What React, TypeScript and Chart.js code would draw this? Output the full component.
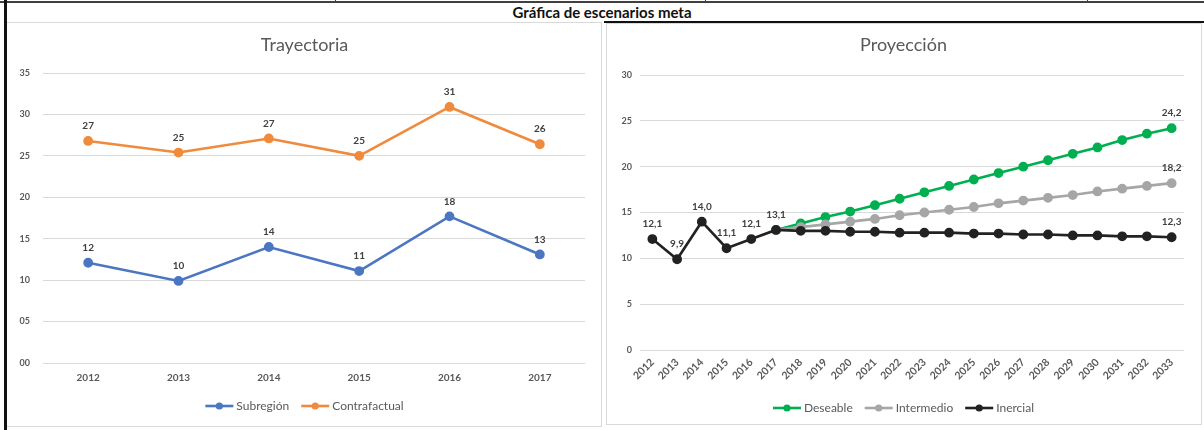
import React, { useEffect, useRef } from "react";
import { Chart, registerables } from "chart.js";

Chart.register(...registerables);

// ---------- DATA ----------
const trajYears = ["2012", "2013", "2014", "2015", "2016", "2017"];
const subregion = [12.1, 9.9, 14.0, 11.1, 17.7, 13.1];
const contrafactual = [26.8, 25.4, 27.1, 25.0, 30.9, 26.4];

const projYears = [
  "2012", "2013", "2014", "2015", "2016", "2017", "2018", "2019", "2020", "2021", "2022",
  "2023", "2024", "2025", "2026", "2027", "2028", "2029", "2030", "2031", "2032", "2033",
];
const deseable = [
  null, null, null, null, null, 13.1, 13.8, 14.5, 15.1, 15.8, 16.5,
  17.2, 17.9, 18.6, 19.3, 20.0, 20.7, 21.4, 22.1, 22.9, 23.6, 24.2,
];
const intermedio = [
  null, null, null, null, null, 13.1, 13.4, 13.7, 14.0, 14.3, 14.7,
  15.0, 15.3, 15.6, 16.0, 16.3, 16.6, 16.9, 17.3, 17.6, 17.9, 18.2,
];
const inercial = [
  12.1, 9.9, 14.0, 11.1, 12.1, 13.1, 13.0, 13.0, 12.9, 12.9, 12.8,
  12.8, 12.8, 12.7, 12.7, 12.6, 12.6, 12.5, 12.5, 12.4, 12.4, 12.3,
];
// indices of points that carry a value label in the projection chart
const deseableLabelIdx = [21];
const intermedioLabelIdx = [21];
const inercialLabelIdx = [0, 1, 2, 3, 4, 5, 21];

const mainTitle = "Gráfica de escenarios meta";
const leftTitle = "Trayectoria";
const rightTitle = "Proyección";

// ---------- STYLE ----------
const FONT = "Lato, 'Open Sans', sans-serif";
const BLUE = "#4a76c2";
const ORANGE = "#f08a3c";
const GREEN = "#00b050";
const GRAY = "#a6a6a6";
const BLACK = "#222222";
const GRID = "#d9d9d9";
const TICK = "#595959";
const LABEL = "#404040";

function makeLabelPlugin(format: (v: number) => string) {
  return {
    id: "valueLabels",
    afterDatasetsDraw(chart: any) {
      const ctx = chart.ctx;
      ctx.save();
      ctx.font = `bold 10px ${FONT}`;
      ctx.fillStyle = LABEL;
      ctx.textAlign = "center";
      ctx.textBaseline = "middle";
      chart.data.datasets.forEach((ds: any, di: number) => {
        const meta = chart.getDatasetMeta(di);
        meta.data.forEach((pt: any, i: number) => {
          const v = ds.data[i];
          if (v == null) return;
          if (ds.labelIdx && !ds.labelIdx.includes(i)) return;
          ctx.fillText(format(v), pt.x, pt.y - 15);
        });
      });
      ctx.restore();
    },
  };
}

// Title + legend (line-with-marker icons, like the spreadsheet chart)
function makeDecorPlugin(title: string, titleY: number, legendY: number) {
  return {
    id: "decor",
    afterDraw(chart: any) {
      const ctx = chart.ctx;
      const cx = chart.width / 2;
      ctx.save();
      ctx.fillStyle = TICK;
      ctx.textAlign = "center";
      ctx.textBaseline = "middle";
      ctx.font = `18px ${FONT}`;
      ctx.fillText(title, cx, titleY);

      ctx.font = `12px ${FONT}`;
      const markW = 28;
      const gapIn = 3;
      const gapOut = 12;
      const ds = chart.data.datasets;
      const widths = ds.map((d: any) => markW + gapIn + ctx.measureText(d.label).width);
      const total = widths.reduce((a: number, b: number) => a + b, 0) + gapOut * (ds.length - 1);
      let x = cx - total / 2;
      ds.forEach((d: any, i: number) => {
        const col = d.borderColor;
        ctx.strokeStyle = col;
        ctx.lineWidth = 2.6;
        ctx.beginPath();
        ctx.moveTo(x, legendY);
        ctx.lineTo(x + markW, legendY);
        ctx.stroke();
        ctx.fillStyle = col;
        ctx.beginPath();
        ctx.arc(x + markW / 2, legendY, 3.6, 0, Math.PI * 2);
        ctx.fill();
        ctx.fillStyle = TICK;
        ctx.textAlign = "left";
        ctx.fillText(d.label, x + markW + gapIn, legendY + 0.5);
        x += widths[i] + gapOut;
      });
      ctx.restore();
    },
  };
}

function lineDs(label: string, data: any[], color: string, extra: any = {}) {
  return {
    label,
    data,
    borderColor: color,
    backgroundColor: color,
    pointBackgroundColor: color,
    pointBorderColor: color,
    borderWidth: 2.6,
    pointRadius: 3.6,
    pointHoverRadius: 3.6,
    tension: 0,
    spanGaps: false,
    ...extra,
  };
}

function ChartCanvas({ config, width, height, style }: any) {
  const ref = useRef<HTMLCanvasElement>(null);
  useEffect(() => {
    const chart = new Chart(ref.current!, config());
    return () => chart.destroy();
  }, []);
  return (
    <canvas
      ref={ref}
      width={width}
      height={height}
      style={{ position: "absolute", width, height, ...style }}
    />
  );
}

const leftConfig = () => ({
  type: "line",
  data: {
    labels: trajYears,
    datasets: [
      lineDs("Subregión", subregion, BLUE),
      lineDs("Contrafactual", contrafactual, ORANGE),
    ],
  },
  options: {
    responsive: false,
    animation: false,
    layout: { padding: { left: 0, right: 16, top: 50, bottom: 38 } },
    scales: {
      x: {
        offset: true,
        grid: { display: false, drawTicks: false },
        border: { display: false },
        ticks: { color: TICK, padding: 9, maxRotation: 0, font: { family: FONT, size: 10, weight: "bold" } },
        afterFit: (s: any) => {
          s.height = 24;
        },
      },
      y: {
        min: 0,
        max: 35,
        grid: { color: GRID, drawTicks: false, lineWidth: 1 },
        border: { display: false },
        ticks: {
          stepSize: 5,
          padding: 13,
          color: TICK,
          font: { family: FONT, size: 9, weight: "bold" },
          callback: (v: any) => String(v).padStart(2, "0"),
        },
        afterFit: (s: any) => {
          s.width = 35;
        },
      },
    },
    plugins: {
      title: { display: false },
      legend: { display: false },
      tooltip: { enabled: false },
    },
  },
  plugins: [
    makeLabelPlugin((v) => String(Math.round(v))),
    makeDecorPlugin(leftTitle, 22, 383),
  ],
});

const rightConfig = () => ({
  type: "line",
  data: {
    labels: projYears,
    datasets: [
      lineDs("Deseable", deseable, GREEN, { order: 2, labelIdx: deseableLabelIdx }),
      lineDs("Intermedio", intermedio, GRAY, { order: 1, labelIdx: intermedioLabelIdx }),
      lineDs("Inercial", inercial, BLACK, { order: 0, labelIdx: inercialLabelIdx }),
    ],
  },
  options: {
    responsive: false,
    animation: false,
    layout: { padding: { left: 0, right: 16, top: 51, bottom: 29 } },
    scales: {
      x: {
        offset: true,
        grid: { display: false, drawTicks: false },
        border: { display: false },
        ticks: {
          color: TICK,
          padding: 6,
          minRotation: 45,
          maxRotation: 45,
          autoSkip: false,
          font: { family: FONT, size: 10.5, weight: "bold" },
        },
        afterFit: (s: any) => {
          s.height = 45;
        },
      },
      y: {
        min: 0,
        max: 30,
        grid: { color: GRID, drawTicks: false, lineWidth: 1 },
        border: { display: false },
        ticks: {
          stepSize: 5,
          padding: 8,
          color: TICK,
          font: { family: FONT, size: 9, weight: "bold" },
        },
        afterFit: (s: any) => {
          s.width = 33;
        },
      },
    },
    plugins: {
      title: { display: false },
      legend: { display: false },
      tooltip: { enabled: false },
    },
  },
  plugins: [
    makeLabelPlugin((v) => v.toFixed(1).replace(".", ",")),
    makeDecorPlugin(rightTitle, 21, 384),
  ],
});

export default function App() {
  return (
    <div
      style={{
        position: "absolute",
        left: 0,
        top: 0,
        width: 1204,
        height: 430,
        background: "#fff",
        overflow: "hidden",
        fontFamily: FONT,
      }}
    >
      {/* top table line */}
      <div style={{ position: "absolute", left: 0, top: 1, width: 1204, height: 2, background: "#404040" }} />
      {[335, 705, 1087].map((x) => (
        <div key={x} style={{ position: "absolute", left: x, top: 0, width: 1, height: 3, background: "#404040" }} />
      ))}
      {/* left thick border */}
      <div style={{ position: "absolute", left: 4, top: 0, width: 3, height: 430, background: "#111" }} />
      {/* main title */}
      <div
        style={{
          position: "absolute",
          left: 0,
          top: 4,
          width: 1204,
          textAlign: "center",
          fontWeight: "bold",
          fontSize: 15,
          lineHeight: "17px",
          color: "#111",
        }}
      >
        {mainTitle}
      </div>
      {/* left panel */}
      <div
        style={{
          position: "absolute",
          left: 7,
          top: 22,
          width: 594,
          height: 403,
          border: "1px solid #d9d9d9",
          borderLeft: "none",
        }}
      />
      {/* right panel */}
      <div style={{ position: "absolute", left: 604, top: 21, width: 600, height: 2, background: "#111" }} />
      <div
        style={{
          position: "absolute",
          left: 606,
          top: 23,
          width: 594,
          height: 400,
          border: "1px solid #d9d9d9",
        }}
      />
      <ChartCanvas config={leftConfig} width={593} height={402} style={{ left: 8, top: 23 }} />
      <ChartCanvas config={rightConfig} width={593} height={400} style={{ left: 607, top: 24 }} />
    </div>
  );
}
